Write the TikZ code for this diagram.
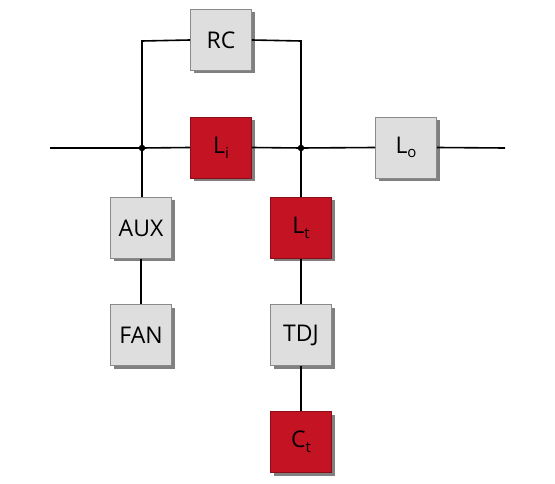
\documentclass[tikz,border=0pt]{standalone}
\usepackage{fontspec}
\setmainfont{Open Sans}
\usetikzlibrary{shadows}
\definecolor{boxgray}{HTML}{DEDEDE}
\definecolor{boxred}{HTML}{C41423}
\definecolor{edgegray}{HTML}{8A8A8A}
\newcommand{\mysub}[1]{\raisebox{-0.2em}{\fontsize{15}{15}\selectfont #1}}
\tikzset{
  blk/.style={minimum width=61pt, minimum height=61pt, inner sep=0pt, draw=edgegray, line width=0.8pt,
    font=\fontsize{23}{26}\selectfont,
    drop shadow={shadow xshift=3pt, shadow yshift=-3pt, fill=black!50, opacity=1}},
  graybox/.style={blk, fill=boxgray},
  redbox/.style={blk, fill=boxred, draw=boxred!70!black},
  wire/.style={line width=1.6pt, black},
  dot/.style={circle, fill=black, inner sep=0pt, minimum size=6.5pt}
}
\begin{document}
\begin{tikzpicture}[x=1pt,y=-1pt]
\useasboundingbox (0,0) rectangle (555,484);
\coordinate (lend) at (50,148);
\coordinate (rend) at (505,148);
\coordinate (j1) at (142,148);
\coordinate (j2) at (301,148);
\coordinate (c1) at (142,41);
\coordinate (c2) at (301,41);
\node[graybox] (rc) at (221,40) {RC};
\node[redbox] (li) at (221,147.5) {L\mysub{i}};
\node[graybox] (lo) at (406,147.5) {L\mysub{o}};
\node[graybox] (aux) at (141,228) {AUX};
\node[graybox] (fan) at (141,335) {FAN};
\node[redbox] (lt) at (301,228) {L\mysub{t}};
\node[graybox] (tdj) at (301,335) {TDJ};
\node[redbox] (ct) at (301,442) {C\mysub{t}};
\draw[wire] (lend) -- (j1) -- (li.west);
\draw[wire] (li.east) -- (j2) -- (lo.west);
\draw[wire] (lo.east) -- (rend);
\draw[wire] (j1) -- (c1) -- (rc.west);
\draw[wire] (rc.east) -- (c2) -- (j2);
\draw[wire] (j1) -- (aux.north -| j1);
\draw[wire] (aux) -- (fan);
\draw[wire] (j2) -- (lt);
\draw[wire] (lt) -- (tdj);
\draw[wire] (tdj) -- (ct);
\node[dot] (d1) at (j1) {};
\node[dot] (d2) at (j2) {};
\end{tikzpicture}
\end{document}
